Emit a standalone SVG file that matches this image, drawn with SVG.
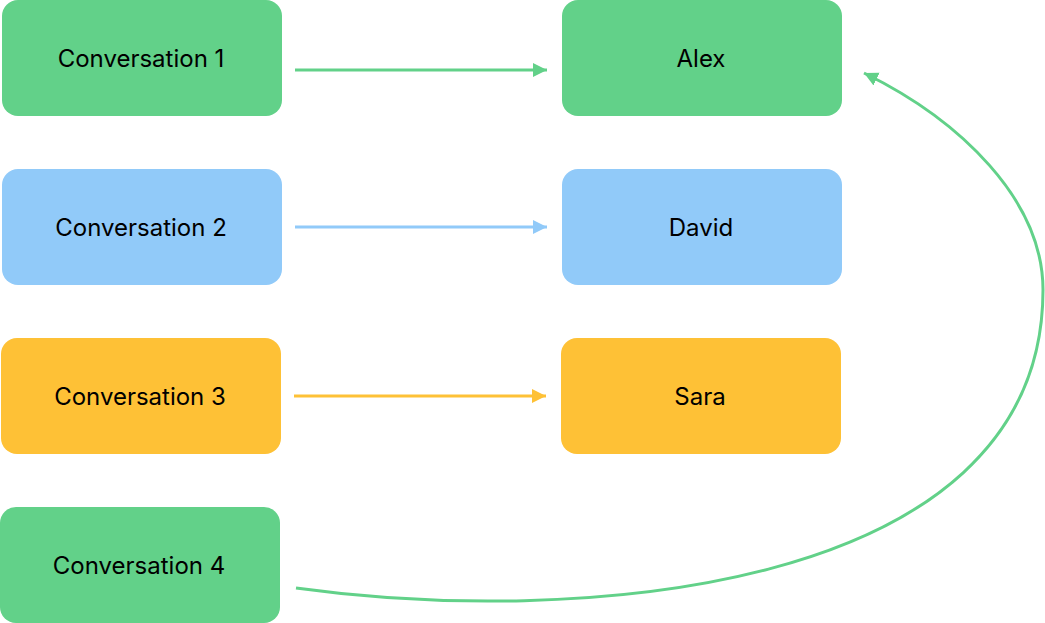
<svg xmlns="http://www.w3.org/2000/svg" width="1045" height="623" viewBox="0 0 1045 623">
<style>
.box{stroke:none}
.g{fill:#62D189}
.b{fill:#91CAF9}
.y{fill:#FEC136}
.lbl{font-family:Inter,"Noto Sans",sans-serif;font-size:24px;fill:#000;text-anchor:middle;dominant-baseline:central}
.c{fill:none;stroke-width:3}
</style>
<defs>
<marker id="ag" markerUnits="userSpaceOnUse" markerWidth="16" markerHeight="16" refX="14" refY="7" orient="auto"><path d="M0,0 L14,7 L0,14 Z" fill="#62D189"/></marker>
<marker id="ab" markerUnits="userSpaceOnUse" markerWidth="16" markerHeight="16" refX="14" refY="7" orient="auto"><path d="M0,0 L14,7 L0,14 Z" fill="#91CAF9"/></marker>
<marker id="ay" markerUnits="userSpaceOnUse" markerWidth="16" markerHeight="16" refX="14" refY="7" orient="auto"><path d="M0,0 L14,7 L0,14 Z" fill="#FEC136"/></marker>
</defs>
<g id="conv1"><rect class="box g" x="2" y="0" width="280" height="116" rx="16"/><text class="lbl" x="141" y="58">Conversation 1</text></g>
<g id="conv2"><rect class="box b" x="2" y="169" width="280" height="116" rx="16"/><text class="lbl" x="141" y="227">Conversation 2</text></g>
<g id="conv3"><rect class="box y" x="1" y="338" width="280" height="116" rx="16"/><text class="lbl" x="140" y="396">Conversation 3</text></g>
<g id="conv4"><rect class="box g" x="0" y="507" width="280" height="116" rx="16"/><text class="lbl" x="139" y="565">Conversation 4</text></g>
<g id="alex"><rect class="box g" x="562" y="0" width="280" height="116" rx="16"/><text class="lbl" x="701" y="58">Alex</text></g>
<g id="david"><rect class="box b" x="562" y="169" width="280" height="116" rx="16"/><text class="lbl" x="701" y="227">David</text></g>
<g id="sara"><rect class="box y" x="561" y="338" width="280" height="116" rx="16"/><text class="lbl" x="700" y="396">Sara</text></g>
<g id="connectors">
<path class="c" stroke="#62D189" d="M295,70 L547,70" marker-end="url(#ag)"/>
<path class="c" stroke="#91CAF9" d="M295,227 L547,227" marker-end="url(#ab)"/>
<path class="c" stroke="#FEC136" d="M294,396 L546,396" marker-end="url(#ay)"/>
<path class="c" stroke="#62D189" d="M296,588 C560,625 1043,600 1043,290 C1043,200 960,120 864,73" marker-end="url(#ag)"/>
</g>
</svg>
